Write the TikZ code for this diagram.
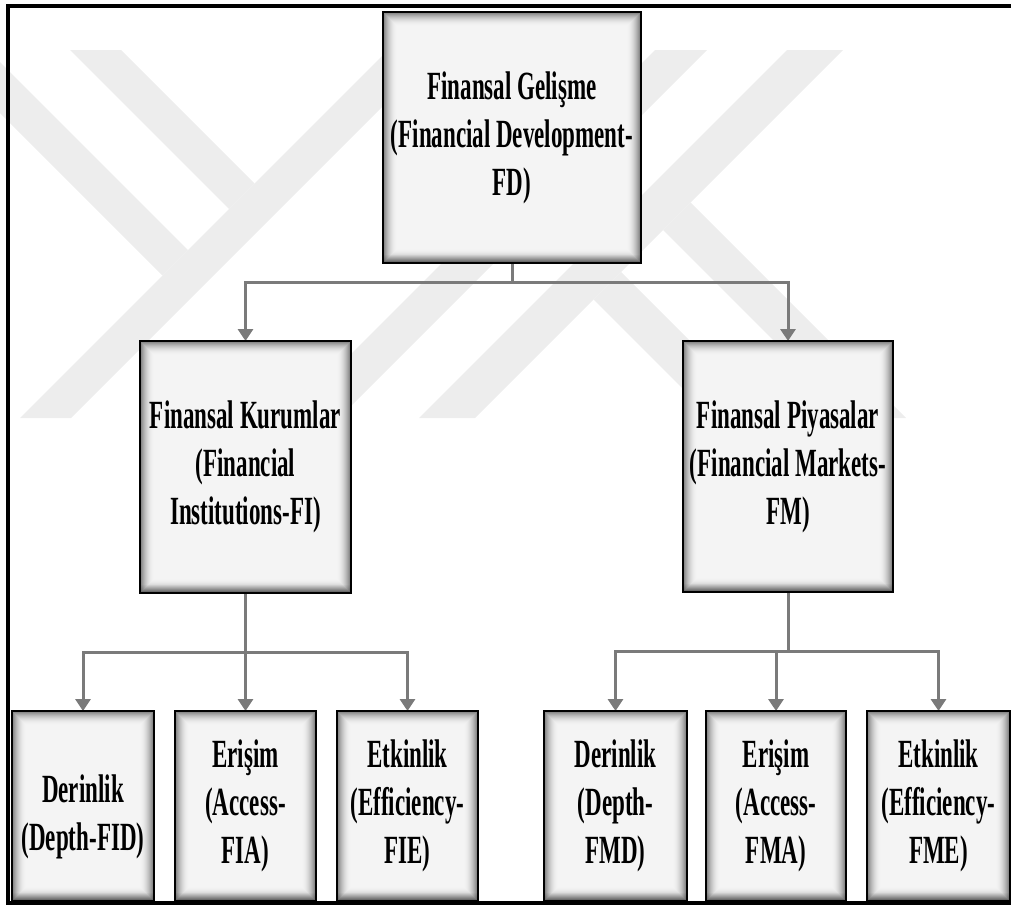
\documentclass[tikz,border=0pt]{standalone}
\usepackage{fontspec}
\setmainfont{Liberation Serif}[FakeStretch=0.575]
\usetikzlibrary{arrows.meta}

\definecolor{wmark}{HTML}{EDEDED}
\definecolor{boxfill}{HTML}{F4F4F4}
\definecolor{linkgray}{HTML}{7A7A7A}

\pgfdeclarelayer{wm}
\pgfdeclarelayer{conn}
\pgfsetlayers{wm,conn,main}

\tikzset{
  panel/.style={
    draw=black, line width=1.8bp, fill=boxfill,
    inner sep=0pt, outer sep=0pt, align=center, text=black,
    font=\fontsize{40bp}{48bp}\selectfont\bfseries,
    path picture={
      \foreach \k in {0,...,13}{
        \pgfmathsetmacro{\op}{0.5*(1-\k/14)^2}
        \pgfmathsetmacro{\d}{\k+0.6}
        \draw[black, opacity=\op, line width=1.2bp]
          ([shift={(\d bp,-\d bp)}]path picture bounding box.north west)
          rectangle ([shift={(-\d bp,\d bp)}]path picture bounding box.south east);
      }
      % a little extra depth along the lower edge
      \foreach \k in {0,...,7}{
        \pgfmathsetmacro{\op}{0.25*(1-\k/8)}
        \pgfmathsetmacro{\d}{\k+0.6}
        \draw[black, opacity=\op, line width=1.2bp]
          ([shift={(0bp,\d bp)}]path picture bounding box.south west)
          -- ([shift={(0bp,\d bp)}]path picture bounding box.south east);
      }
    }
  },
  link/.style={draw=linkgray, line width=3bp, line join=miter,
    -{Triangle[width=15bp,length=12bp]}},
  frameline/.style={draw=black, line width=4bp, line join=miter},
  band/.style={fill=wmark, draw=none}
}

\begin{document}
\begin{tikzpicture}[x=1bp, y=-1bp]
  \useasboundingbox (0,0) rectangle (1011,905);

  % light emblem behind the chart
  \begin{pgfonlayer}{wm}
    \fill[band] (70,50) -- (121,50) -- (254.5,183.5) -- (229,209) -- cycle;
    \fill[band] (0,62) -- (188,250) -- (162.5,275.5) -- (0,113) -- cycle;
    \fill[band] (388,50) -- (439,50) -- (71,418) -- (20,418) -- cycle;
    \fill[band] (655,50) -- (707,50) -- (339,418) -- (287,418) -- cycle;
    \fill[band] (787,50) -- (843,50) -- (475,418) -- (419,418) -- cycle;
    \fill[band] (593.5,299.5) -- (621,272) -- (767,418) -- (712,418) -- cycle;
    \fill[band] (663,230) -- (690.5,202.5) -- (906,418) -- (851,418) -- cycle;
  \end{pgfonlayer}

  % top level
  \node[panel, minimum width=258bp, minimum height=251bp] (fd) at (512,137.5)
    {Finansal Gelişme\\(Financial Development-\\FD)};

  % second level
  \node[panel, minimum width=211bp, minimum height=252bp] (fi) at (245.5,467)
    {Finansal Kurumlar\\(Financial\\Institutions-FI)};
  \node[panel, minimum width=210bp, minimum height=251bp] (fm) at (788,466.5)
    {Finansal Piyasalar\\(Financial Markets-\\FM)};

  % third level
  \node[panel, minimum width=142bp, minimum height=190bp] (fid) at (83,806)
    {\rule{0pt}{49bp}Derinlik\\(Depth-FID)};
  \node[panel, minimum width=141bp, minimum height=190bp] (fia) at (245.5,806)
    {Erişim\\(Access-\\FIA)};
  \node[panel, minimum width=141bp, minimum height=190bp] (fie) at (407.5,806)
    {Etkinlik\\(Efficiency-\\FIE)};
  \node[panel, minimum width=143bp, minimum height=190bp] (fmd) at (615.5,806)
    {Derinlik\\(Depth-\\FMD)};
  \node[panel, minimum width=140bp, minimum height=190bp] (fma) at (776,806)
    {Erişim\\(Access-\\FMA)};
  \node[panel, minimum width=143bp, minimum height=190bp] (fme) at (938.5,806)
    {Etkinlik\\(Efficiency-\\FME)};

  % connectors
  \begin{pgfonlayer}{conn}
    \draw[link] (fd.south) -- ++(0,19) -| (fi.north);
    \draw[link] (fd.south) -- ++(0,19) -| (fm.north);
    \draw[link] (fi.south) -- ++(0,59) -| (fid.north);
    \draw[link] (fi.south) -- ++(0,59) -| (fia.north);
    \draw[link] (fi.south) -- ++(0,59) -| (fie.north);
    \draw[link] (fm.south) -- ++(0,59) -| (fmd.north);
    \draw[link] (fm.south) -- ++(0,59) -| (fma.north);
    \draw[link] (fm.south) -- ++(0,59) -| (fme.north);
  \end{pgfonlayer}

  % frame
  \draw[frameline] (1011,6) -- (8,6) -- (8,903) -- (1011,903);
\end{tikzpicture}
\end{document}
